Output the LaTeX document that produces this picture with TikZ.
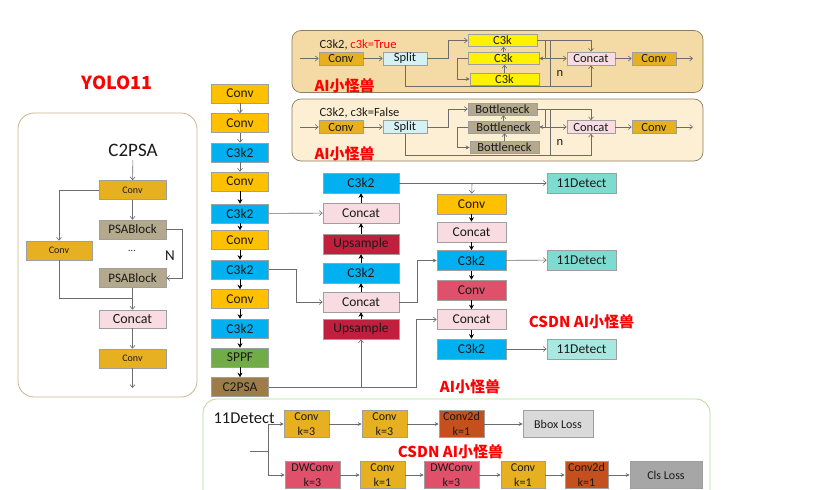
\documentclass[tikz,border=0pt]{standalone}
\usepackage{fontspec}
\setmainfont{Carlito}
\newfontfamily\cjk{Noto Sans CJK SC}
\usetikzlibrary{arrows.meta}
\definecolor{convc}{HTML}{FFC000}
\definecolor{goldc}{HTML}{E6B020}
\definecolor{c3kc}{HTML}{00B0F0}
\definecolor{sppfc}{HTML}{70AD47}
\definecolor{psac}{HTML}{9E7C48}
\definecolor{catc}{HTML}{F8DCE2}
\definecolor{upc}{HTML}{C0203E}
\definecolor{redconv}{HTML}{E0506A}
\definecolor{detc}{HTML}{7DDCCF}
\definecolor{detl}{HTML}{A8E8E0}
\definecolor{splitc}{HTML}{D6F1F4}
\definecolor{bneck}{HTML}{B4A98D}
\definecolor{c2dc}{HTML}{C5501E}
\definecolor{frameA}{HTML}{F4DBA5}
\definecolor{frameB}{HTML}{FCEFD3}
\definecolor{frameline}{HTML}{8C7E5E}
\definecolor{leftline}{HTML}{C9B48E}
\definecolor{greenline}{HTML}{B5DB98}
\definecolor{lossl}{HTML}{D9D9D9}
\definecolor{lossd}{HTML}{A6A6A6}
\definecolor{ink}{HTML}{1A1A1A}

\tikzset{
  blk/.style={draw=gray!75, line width=0.6pt, minimum height=19pt, inner sep=0,
    text=ink, font=\fontsize{13.5}{14}\selectfont},
  sblk/.style={blk, minimum height=13pt, font=\fontsize{12.5}{13}\selectfont},
  hblk/.style={blk, minimum height=27pt, align=center,
    font=\fontsize{12}{14.5}\selectfont},
  lnk/.style={draw=gray!85!black, line width=0.6pt,
    -{Straight Barb[length=3pt,width=5pt]}},
  fln/.style={draw=gray!85!black, line width=0.6pt,
    -{Stealth[length=4pt,width=4pt]}},
  thk/.style={draw=black, line width=1pt, -{Stealth[length=4.5pt,width=5pt]}},
  wm/.style={text=red, font=\cjk\bfseries\fontsize{15}{15}\selectfont},
}

\begin{document}
\begin{tikzpicture}[x=1pt, y=-1pt]

\useasboundingbox (0,0) rectangle (831,490);

% ---- C3k2 blocks, c3k=True and c3k=False
\foreach \i/\y/\bg/\unit/\ucol/\lab in {%
  1/58.5/frameA/C3k/yellow/{C3k2, \textcolor{red}{c3k=True}},
  2/127/frameB/Bottleneck/bneck/{C3k2, c3k=False}%
}{
  \draw[draw=frameline, fill=\bg, rounded corners=9pt, line width=0.7pt]
    (292,\y-28) rectangle (703,\y+34);
  \node[anchor=west, font=\fontsize{12.5}{13}\selectfont, text=ink]
    (lab\i) at (316,\y-14) {\lab};
  \node[wm, anchor=west] (wm\i) at (311,\y+27) {AI小怪兽};
  \node[sblk, fill=goldc, minimum width=44pt] (conv\i) at (341,\y) {Conv};
  \node[sblk, fill=splitc, minimum width=44pt] (split\i) at (405,\y) {Split};
  \node[sblk, fill=\ucol, minimum width=69pt, minimum height=12pt]
    (ua\i) at (502.5,\y-18) {\unit};
  \node[sblk, fill=\ucol, minimum width=71pt, minimum height=12pt]
    (ub\i) at (503.5,\y) {\unit};
  \node[sblk, fill=\ucol, minimum width=69pt, minimum height=12pt]
    (uc\i) at (504.5,\y+20.5) {\unit};
  \node[sblk, fill=catc, minimum width=48pt] (cat\i) at (591,\y) {Concat};
  \node[sblk, fill=goldc, minimum width=44pt] (out\i) at (654,\y) {Conv};
  \node[font=\fontsize{12.5}{12}\selectfont, text=ink] (n\i) at (560,\y+15) {n};
  \coordinate (in\i) at (300,\y);
  \coordinate (end\i) at (693,\y);
  \coordinate (fb\i) at (545,\y);
  \draw[lnk] (in\i) -- (conv\i);
  \draw[lnk] (conv\i) -- (split\i);
  \draw[lnk] (split\i.east) -- (448,\y) |- (ua\i);
  \draw[fln] (ub\i.west) -- (457,\y) |- (uc\i);
  \draw[lnk] (uc\i.north) -- (uc\i.north |- ub\i.south);
  \draw[lnk] (ub\i.north) -- (ub\i.north |- ua\i.south);
  \draw[fln] (ua\i.east) -| (fb\i) -- (ub\i.east);
  \draw[draw=gray!85!black, line width=0.6pt] (550,\y-18) -- (550,\y+28);
  \draw[lnk] (ua\i.east) -| (cat\i.north);
  \draw[lnk] (fb\i) -- (cat\i);
  \draw[lnk] (split\i.south) -- (405,\y+28) -| (cat\i.south);
  \draw[lnk] (cat\i) -- (out\i);
  \draw[lnk] (out\i) -- (end\i);
}

% ---- C2PSA panel
\node[text=red, font=\cjk\bfseries\fontsize{18}{18}\selectfont]
  (yolo) at (117,83) {YOLO11};
\draw[draw=leftline, rounded corners=16pt, line width=0.8pt]
  (18,113) rectangle (197,397);
\node[font=\fontsize{19}{19}\selectfont, text=ink] (c2t) at (133,150) {C2PSA};
\node[blk, fill=goldc, minimum width=67pt, font=\fontsize{10}{10}\selectfont]
  (pconv) at (132.5,190) {Conv};
\node[blk, fill=bneck, minimum width=67pt, font=\fontsize{13}{13}\selectfont]
  (psa1) at (132.5,229.5) {PSABlock};
\node[blk, fill=goldc, minimum width=66pt, font=\fontsize{10}{10}\selectfont]
  (pside) at (59,250.5) {Conv};
\node[text=ink] (dots) at (132,251) {...};
\node[font=\fontsize{15}{15}\selectfont, text=ink] (nn) at (170,256) {N};
\node[blk, fill=bneck, minimum width=67pt, font=\fontsize{13}{13}\selectfont]
  (psa2) at (132.5,278) {PSABlock};
\node[blk, fill=catc, minimum width=67pt, minimum height=18pt,
      font=\fontsize{14}{14}\selectfont] (pcat) at (132.5,319) {Concat};
\node[blk, fill=goldc, minimum width=67pt, font=\fontsize{10}{10}\selectfont]
  (pout) at (132.5,358.5) {Conv};
\coordinate (pend) at (132.5,388);
\draw[lnk] (c2t) -- (pconv);
\draw[lnk] (pconv.west) -| (pside.north);
\draw[lnk] (pconv) -- (psa1);
\draw[lnk] (psa1.east) -- (182,229.5) |- (psa2.east);
\draw[lnk] (pside.south) |- (132.5,298) -- (pcat.north);
\draw[draw=gray!85!black, line width=0.6pt] (psa2) -- (132.5,298);
\draw[lnk] (pcat) -- (pout);
\draw[lnk] (pout) -- (pend);

% ---- backbone
\foreach \nm/\y/\col/\txt in {%
  b1/93.5/convc/Conv, b2/123/convc/Conv, b3/152.5/c3kc/C3k2,
  b4/181.5/convc/Conv, b5/213.5/c3kc/C3k2, b6/240/convc/Conv,
  b7/269.5/c3kc/C3k2, b8/299/convc/Conv, b9/328.5/c3kc/C3k2,
  b10/357.5/sppfc/SPPF, b11/387/psac/C2PSA%
}{
  \node[blk, fill=\col, minimum width=57pt] (\nm) at (240,\y) {\txt};
}
\foreach \a/\b in {b1/b2, b2/b3, b3/b4}{
  \draw[lnk] (\a) -- (\b);
}
\foreach \a/\b in {b4/b5, b5/b6, b6/b7, b7/b8, b8/b9, b9/b10, b10/b11}{
  \draw[thk] (\a) -- (\b);
}

% ---- neck, upward path
\foreach \nm/\y/\col/\txt in {%
  n1/183/c3kc/C3k2, n2/213/catc/Concat, n3/244/upc/Upsample,
  n4/273/c3kc/C3k2, n5/302/catc/Concat, n6/329/upc/Upsample%
}{
  \node[blk, fill=\col, minimum width=76pt, minimum height=20pt]
    (\nm) at (361,\y) {\txt};
}
\foreach \a/\b in {n6/n5, n5/n4, n4/n3, n3/n2, n2/n1}{
  \draw[thk] (\a) -- (\b);
}

% ---- neck, downward path
\foreach \nm/\y/\col/\txt in {%
  m1/204/convc/Conv, m2/232/catc/Concat, m3/260.5/c3kc/C3k2,
  m4/290/redconv/Conv, m5/319.5/catc/Concat, m6/349/c3kc/C3k2%
}{
  \node[blk, fill=\col, minimum width=69pt, minimum height=20pt]
    (\nm) at (471.5,\y) {\txt};
}
\foreach \a/\b in {m1/m2, m2/m3, m3/m4, m4/m5, m5/m6}{
  \draw[thk] (\a) -- (\b);
}

% ---- heads
\node[blk, fill=detc, minimum width=69pt, minimum height=20pt]
  (d1) at (581.5,183) {11Detect};
\node[blk, fill=detc, minimum width=69pt, minimum height=20pt]
  (d2) at (581.5,260) {11Detect};
\node[blk, fill=detl, minimum width=69pt, minimum height=20pt]
  (d3) at (581.5,349) {11Detect};

\draw[lnk] (b5) -- (n2);
\draw[lnk] (b7.east) -- (296,269.5) |- (n5);
\draw[lnk] (b11.east) -| (n6.south);
\draw[lnk] (b11.east) -- (416,387) |- (m5);
\draw[lnk] (n1) -- (d1);
\draw[lnk] (472,183) -- (m1);
\draw[fln] (n5.east) -- (417,302) |- (m3);
\draw[lnk] (m3) -- (d2);
\draw[lnk] (m6) -- (d3);

\node[wm] (wm3) at (581.5,322) {CSDN AI小怪兽};
\node[wm] (wm4) at (470,387) {AI小怪兽};

% ---- 11Detect head
\begin{scope}
  \clip (0,0) rectangle (831,490);
  \draw[draw=greenline, rounded corners=14pt, line width=0.8pt]
    (203,399) rectangle (710,520);
\end{scope}
\node[anchor=west, font=\fontsize{16.5}{16}\selectfont, text=ink]
  (dt) at (210,418) {11Detect};

\foreach \nm/\x/\y/\w/\col/\txt in {%
  h1/306.5/424/45/goldc/{Conv\\k=3}, h2/384.5/424/45/goldc/{Conv\\k=3},
  h3/461.5/424/45/c2dc/{Conv2d\\k=1}, h4/558/424/70/lossl/{Bbox Loss},
  g1/312.5/475/55/redconv/{DWConv\\k=3}, g2/382.5/475/45/goldc/{Conv\\k=1},
  g3/451.5/475/55/redconv/{DWConv\\k=3}, g4/523/475/44/goldc/{Conv\\k=1},
  g5/586.5/475/43/c2dc/{Conv2d\\k=1}, g6/666/475/72/lossd/{Cls Loss}%
}{
  \node[hblk, fill=\col, minimum width=\w pt] (\nm) at (\x,\y) {\txt};
}
\foreach \a/\b in {h1/h2, h2/h3, h3/h4, g1/g2, g2/g3, g3/g4, g4/g5, g5/g6}{
  \draw[fln] (\a) -- (\b);
}
\coordinate (jtop) at (268,424);
\coordinate (jbot) at (268,475);
\coordinate (jin) at (250,451);
\draw[draw=gray!85!black, line width=0.6pt] (jin) -- (268,451);
\draw[draw=gray!85!black, line width=0.6pt] (jtop) -- (jbot);
\draw[fln] (jtop) -- (h1);
\draw[fln] (jbot) -- (g1);

\node[wm] (wm5) at (450.5,452) {CSDN AI小怪兽};

\end{tikzpicture}
\end{document}
